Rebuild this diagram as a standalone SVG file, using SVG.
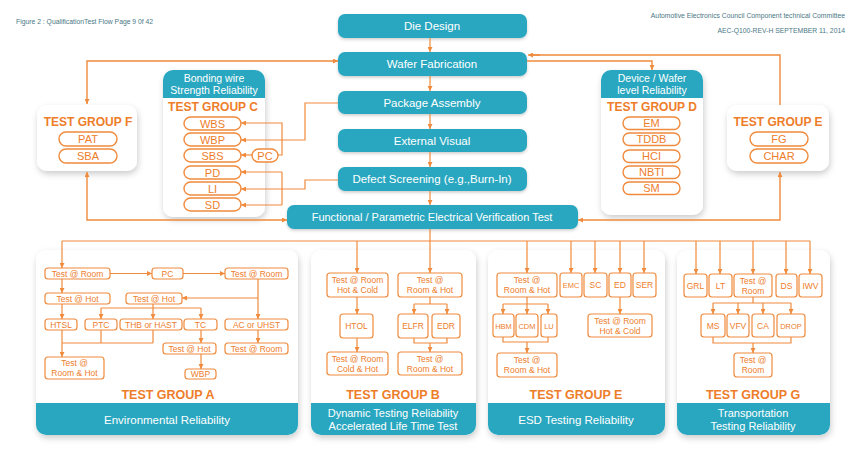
<svg xmlns="http://www.w3.org/2000/svg" width="865" height="467" viewBox="0 0 865 467">
<defs>
<style>
text{font-family:"Liberation Sans",Arial,sans-serif}
.tb{fill:#29a7c0;filter:url(#sh2)}
.tt{font-size:11.5px;fill:#fff;text-anchor:middle}
.panel{fill:#fff;filter:url(#sh)}
.hd{fill:#29a7c0}
.ht{font-size:10.5px;fill:#fff;text-anchor:middle}
.gt{font-size:12px;font-weight:bold;fill:#ee7d2a;text-anchor:middle}
.gtb{font-size:12.5px;font-weight:bold;fill:#ee7d2a;text-anchor:middle}
.pill{fill:#fff;stroke:#f08a3c;stroke-width:1.4}
.pt{font-size:11px;fill:#ee7d2a;text-anchor:middle}
.sb{fill:#fff;stroke:#f08a3c;stroke-width:1.2}
.st{font-size:8.5px;fill:#ee7d2a;text-anchor:middle}
.ln{fill:none;stroke:#f08a3c;stroke-width:1.2}
.la{fill:none;stroke:#f08a3c;stroke-width:1.2;marker-end:url(#ah)}
.lb{fill:none;stroke:#f08a3c;stroke-width:1.4;marker-end:url(#ah);marker-start:url(#ah)}
.ft{font-size:11.5px;fill:#fff;text-anchor:middle}
.hdr{font-size:6.8px;fill:#4a7785}
</style>
<marker id="ah" viewBox="0 0 10 10" refX="10" refY="5" markerWidth="5" markerHeight="5" markerUnits="userSpaceOnUse" orient="auto-start-reverse"><path d="M0,0 L10,5 L0,10 Z" fill="#f08a3c"/></marker>
<filter id="sh" x="-20%" y="-20%" width="140%" height="150%"><feDropShadow dx="1" dy="3" stdDeviation="3" flood-color="#000" flood-opacity="0.2"/></filter>
<filter id="sh2" x="-10%" y="-30%" width="120%" height="170%"><feDropShadow dx="0" dy="1.5" stdDeviation="1.5" flood-color="#000" flood-opacity="0.2"/></filter>
</defs>
<rect width="865" height="467" fill="#fff"/>

<g id="header">
<text class="hdr" x="16" y="24">Figure 2 : QualificationTest Flow Page 9 0f 42</text>
<text class="hdr" x="845" y="18" text-anchor="end">Automotive Electronics Council   Component technical Committee</text>
<text class="hdr" x="845" y="33" text-anchor="end">AEC-Q100-REV-H   SEPTEMBER 11, 2014</text>
</g>

<g id="die-design"><rect class="tb" x="338" y="14" width="189" height="24" rx="7"/><text class="tt" x="432" y="30">Die Design</text></g>
<g id="wafer-fabrication"><rect class="tb" x="338" y="52" width="189" height="24" rx="7"/><text class="tt" x="432" y="68">Wafer Fabrication</text></g>
<g id="package-assembly"><rect class="tb" x="338" y="91" width="189" height="23" rx="7"/><text class="tt" x="432" y="107">Package Assembly</text></g>
<g id="external-visual"><rect class="tb" x="338" y="129" width="189" height="23" rx="7"/><text class="tt" x="432" y="145">External Visual</text></g>
<g id="defect-screening"><rect class="tb" x="338" y="167" width="189" height="24" rx="7"/><text class="tt" x="432" y="183">Defect Screening (e.g.,Burn-In)</text></g>
<g id="functional-test"><rect class="tb" x="287" y="205" width="291" height="24" rx="7"/><text class="tt" x="432" y="221" style="font-size:11px">Functional / Parametric Electrical Verification Test</text></g>

<g id="group-f">
<rect class="panel" x="37" y="105" width="100" height="66" rx="10"/>
<text class="gt" x="88" y="126">TEST GROUP F</text>
<rect class="pill" x="59" y="132" width="58" height="14" rx="7"/><text class="pt" x="88" y="143">PAT</text>
<rect class="pill" x="59" y="149" width="58" height="14" rx="7"/><text class="pt" x="88" y="160">SBA</text>
</g>

<g id="group-c">
<rect class="panel" x="163" y="70" width="102" height="147" rx="10"/>
<path class="hd" d="M163,98 V80 a10,10 0 0 1 10,-10 H255 a10,10 0 0 1 10,10 V98 Z"/>
<text class="ht" x="214" y="82">Bonding wire</text>
<text class="ht" x="214" y="94">Strength Reliability</text>
<text class="gt" x="213" y="111">TEST GROUP C</text>
<rect class="pill" x="184" y="117" width="57" height="13" rx="6.5"/><text class="pt" x="212.5" y="127.5">WBS</text>
<rect class="pill" x="184" y="133" width="57" height="13" rx="6.5"/><text class="pt" x="212.5" y="143.5">WBP</text>
<rect class="pill" x="184" y="149" width="57" height="13" rx="6.5"/><text class="pt" x="212.5" y="159.5">SBS</text>
<rect class="pill" x="184" y="166" width="57" height="13" rx="6.5"/><text class="pt" x="212.5" y="176.5">PD</text>
<rect class="pill" x="184" y="182" width="57" height="13" rx="6.5"/><text class="pt" x="212.5" y="192.5">LI</text>
<rect class="pill" x="184" y="198" width="57" height="13" rx="6.5"/><text class="pt" x="212.5" y="208.5">SD</text>
</g>
<g id="pc-c"><rect class="pill" x="252" y="149" width="26" height="13" rx="6.5"/><text class="pt" x="265" y="159.5">PC</text></g>

<g id="group-d">
<rect class="panel" x="601" y="70" width="102" height="145" rx="10"/>
<path class="hd" d="M601,98 V80 a10,10 0 0 1 10,-10 H693 a10,10 0 0 1 10,10 V98 Z"/>
<text class="ht" x="652" y="82">Device / Wafer</text>
<text class="ht" x="652" y="94">level Reliability</text>
<text class="gt" x="652" y="111">TEST GROUP D</text>
<rect class="pill" x="623" y="117" width="57" height="12.5" rx="6.2"/><text class="pt" x="651.5" y="127">EM</text>
<rect class="pill" x="623" y="133" width="57" height="12.5" rx="6.2"/><text class="pt" x="651.5" y="143">TDDB</text>
<rect class="pill" x="623" y="150" width="57" height="12.5" rx="6.2"/><text class="pt" x="651.5" y="160">HCI</text>
<rect class="pill" x="623" y="166" width="57" height="12.5" rx="6.2"/><text class="pt" x="651.5" y="176">NBTI</text>
<rect class="pill" x="623" y="182" width="57" height="12.5" rx="6.2"/><text class="pt" x="651.5" y="192">SM</text>
</g>

<g id="group-e-top">
<rect class="panel" x="727" y="105" width="102" height="66" rx="10"/>
<text class="gt" x="778" y="126">TEST GROUP E</text>
<rect class="pill" x="750" y="132" width="58" height="14" rx="7"/><text class="pt" x="779" y="143">FG</text>
<rect class="pill" x="750" y="149" width="58" height="14" rx="7"/><text class="pt" x="779" y="160">CHAR</text>
</g>

<g id="group-a">
<rect class="panel" x="36" y="250" width="262" height="185" rx="10"/>
<path class="hd" d="M36,403 H298 V425 a10,10 0 0 1 -10,10 H46 a10,10 0 0 1 -10,-10 Z"/>
<text class="ft" x="167" y="424">Environmental Reliability</text>
<text class="gtb" x="168" y="399">TEST GROUP A</text>
<rect class="sb" x="45" y="268" width="65" height="11" rx="3"/><text class="st" x="77.5" y="276.5">Test @ Room</text>
<rect class="sb" x="152" y="268" width="31" height="11" rx="3"/><text class="st" x="167.5" y="276.5">PC</text>
<rect class="sb" x="225" y="268" width="63" height="11" rx="3"/><text class="st" x="256.5" y="276.5">Test @ Room</text>
<rect class="sb" x="45" y="293" width="65" height="11" rx="3"/><text class="st" x="77.5" y="301.5">Test @ Hot</text>
<rect class="sb" x="126" y="293" width="56" height="11" rx="3"/><text class="st" x="154" y="301.5">Test @ Hot</text>
<rect class="sb" x="45" y="319" width="32" height="11" rx="3"/><text class="st" x="61" y="327.5">HTSL</text>
<rect class="sb" x="85" y="319" width="32" height="11" rx="3"/><text class="st" x="101" y="327.5">PTC</text>
<rect class="sb" x="120" y="319" width="62" height="11" rx="3"/><text class="st" x="151" y="327.5">THB or HAST</text>
<rect class="sb" x="184" y="319" width="33" height="11" rx="3"/><text class="st" x="200.5" y="327.5">TC</text>
<rect class="sb" x="225" y="319" width="63" height="11" rx="3"/><text class="st" x="256.5" y="327.5">AC or UHST</text>
<rect class="sb" x="163" y="343" width="53" height="11" rx="3"/><text class="st" x="189.5" y="351.5">Test @ Hot</text>
<rect class="sb" x="225" y="343" width="63" height="11" rx="3"/><text class="st" x="256.5" y="351.5">Test @ Room</text>
<rect class="sb" x="45" y="357" width="59" height="22" rx="3"/><text class="st" x="74.5" y="366">Test @</text><text class="st" x="74.5" y="376">Room &amp; Hot</text>
<rect class="sb" x="185" y="369" width="31" height="10" rx="3"/><text class="st" x="200.5" y="377">WBP</text>
</g>

<g id="group-b">
<rect class="panel" x="311" y="250" width="165" height="185" rx="10"/>
<path class="hd" d="M311,403 H476 V425 a10,10 0 0 1 -10,10 H321 a10,10 0 0 1 -10,-10 Z"/>
<text class="ft" x="393" y="417" style="font-size:11px">Dynamic Testing Reliability</text>
<text class="ft" x="393" y="430" style="font-size:11px">Accelerated Life Time Test</text>
<text class="gtb" x="393" y="399">TEST GROUP B</text>
<rect class="sb" x="327" y="273" width="61" height="24" rx="3"/><text class="st" x="357.5" y="283">Test @ Room</text><text class="st" x="357.5" y="293">Hot &amp; Cold</text>
<rect class="sb" x="398" y="273" width="64" height="24" rx="3"/><text class="st" x="430" y="283">Test @</text><text class="st" x="430" y="293">Room &amp; Hot</text>
<rect class="sb" x="340" y="314" width="33" height="24" rx="3"/><text class="st" x="356.5" y="329">HTOL</text>
<rect class="sb" x="398" y="314" width="30" height="24" rx="3"/><text class="st" x="413" y="329">ELFR</text>
<rect class="sb" x="432" y="314" width="28" height="24" rx="3"/><text class="st" x="446" y="329">EDR</text>
<rect class="sb" x="327" y="352" width="61" height="23" rx="3"/><text class="st" x="357.5" y="362">Test @ Room</text><text class="st" x="357.5" y="372">Cold &amp; Hot</text>
<rect class="sb" x="398" y="352" width="64" height="23" rx="3"/><text class="st" x="430" y="362">Test @</text><text class="st" x="430" y="372">Room &amp; Hot</text>
</g>

<g id="group-e-bottom">
<rect class="panel" x="488" y="250" width="177" height="185" rx="10"/>
<path class="hd" d="M488,403 H665 V425 a10,10 0 0 1 -10,10 H498 a10,10 0 0 1 -10,-10 Z"/>
<text class="ft" x="576" y="424">ESD Testing Reliability</text>
<text class="gtb" x="576" y="399">TEST GROUP E</text>
<rect class="sb" x="497" y="273" width="60" height="24" rx="3"/><text class="st" x="527" y="283">Test @</text><text class="st" x="527" y="293">Room &amp; Hot</text>
<rect class="sb" x="560" y="273" width="22" height="24" rx="3"/><text class="st" x="571" y="288" style="font-size:7.5px">EMC</text>
<rect class="sb" x="584" y="273" width="23" height="24" rx="3"/><text class="st" x="595.5" y="288">SC</text>
<rect class="sb" x="609" y="273" width="22" height="24" rx="3"/><text class="st" x="620" y="288">ED</text>
<rect class="sb" x="633" y="273" width="23" height="24" rx="3"/><text class="st" x="644.5" y="288">SER</text>
<rect class="sb" x="493" y="314" width="21" height="23" rx="3"/><text class="st" x="503.5" y="328.5" style="font-size:7.5px">HBM</text>
<rect class="sb" x="516" y="314" width="22" height="23" rx="3"/><text class="st" x="527" y="328.5" style="font-size:7.5px">CDM</text>
<rect class="sb" x="541" y="314" width="16" height="23" rx="3"/><text class="st" x="549" y="328.5" style="font-size:7.5px">LU</text>
<rect class="sb" x="588" y="314" width="64" height="23" rx="3"/><text class="st" x="620" y="324">Test @ Room</text><text class="st" x="620" y="334">Hot &amp; Cold</text>
<rect class="sb" x="497" y="353" width="60" height="24" rx="3"/><text class="st" x="527" y="363">Test @</text><text class="st" x="527" y="373">Room &amp; Hot</text>
</g>

<g id="group-g">
<rect class="panel" x="677" y="250" width="153" height="185" rx="10"/>
<path class="hd" d="M677,403 H830 V425 a10,10 0 0 1 -10,10 H687 a10,10 0 0 1 -10,-10 Z"/>
<text class="ft" x="753" y="417" style="font-size:11px">Transportation</text>
<text class="ft" x="753" y="430" style="font-size:11px">Testing Reliability</text>
<text class="gtb" x="753" y="399">TEST GROUP G</text>
<rect class="sb" x="684" y="274" width="23" height="23" rx="3"/><text class="st" x="695.5" y="288.5">GRL</text>
<rect class="sb" x="709" y="274" width="23" height="23" rx="3"/><text class="st" x="720.5" y="288.5">LT</text>
<rect class="sb" x="734" y="274" width="38" height="23" rx="3"/><text class="st" x="753" y="283.5">Test @</text><text class="st" x="753" y="293.5">Room</text>
<rect class="sb" x="776" y="274" width="21" height="23" rx="3"/><text class="st" x="786.5" y="288.5">DS</text>
<rect class="sb" x="799" y="274" width="23" height="23" rx="3"/><text class="st" x="810.5" y="288.5">IWV</text>
<rect class="sb" x="701" y="314" width="24" height="23" rx="3"/><text class="st" x="713" y="328.5">MS</text>
<rect class="sb" x="727" y="314" width="22" height="23" rx="3"/><text class="st" x="738" y="328.5">VFV</text>
<rect class="sb" x="752" y="314" width="22" height="23" rx="3"/><text class="st" x="763" y="328.5">CA</text>
<rect class="sb" x="777" y="314" width="28" height="23" rx="3"/><text class="st" x="791" y="328.5" style="font-size:7.5px">DROP</text>
<rect class="sb" x="734" y="353" width="38" height="24" rx="3"/><text class="st" x="753" y="363">Test @</text><text class="st" x="753" y="373">Room</text>
</g>

<g id="connectors">
<path class="la" d="M430,38 V52"/>
<path class="la" d="M430,76 V91"/>
<path class="la" d="M430,114 V129"/>
<path class="la" d="M430,152 V167"/>
<path class="la" d="M430,191 V205"/>
<path class="lb" d="M87,104 V61 H338"/>
<path class="lb" d="M87,172 V220 H287"/>
<path class="lb" d="M780,172 V220 H578"/>
<path class="ln" d="M780,105 V55 H530" style="stroke-width:1.4"/>
<path class="la" d="M540,55 H528" style="stroke-width:1.4"/>
<path class="la" d="M527,61 H652 V70" style="stroke-width:1.4"/>
<path class="la" d="M338,103 H305 V140 H241"/>
<path class="la" d="M278,155 H282 V123 H241"/>
<path class="la" d="M252,155 H241"/>
<path class="la" d="M338,180 H305 V189 H241"/>
<path class="ln" d="M282,172 V205"/>
<path class="la" d="M282,172 H241"/>
<path class="la" d="M282,205 H241"/>
<path class="ln" d="M430,229 V241 M62,241 H810"/>
<path class="la" d="M62,241 V268"/>
<path class="la" d="M110,273.5 H152"/>
<path class="la" d="M183,273.5 H225"/>
<path class="la" d="M62,279 V293"/>
<path class="la" d="M62,304 V319"/>
<path class="la" d="M62,330 V357"/>
<path class="ln" d="M62,343 H153 M101,330 V343 M153,330 V343"/>
<path class="la" d="M258,279 V319"/>
<path class="la" d="M258,298 H182"/>
<path class="ln" d="M153,304 V308 M101,308 H201"/>
<path class="la" d="M101,308 V319"/>
<path class="la" d="M153,308 V319"/>
<path class="la" d="M201,308 V319"/>
<path class="la" d="M201,330 V343"/>
<path class="la" d="M201,354 V369"/>
<path class="la" d="M258,330 V343"/>
<path class="la" d="M357,241 V273"/>
<path class="la" d="M430,241 V273"/>
<path class="la" d="M357,297 V314"/>
<path class="la" d="M357,338 V352"/>
<path class="ln" d="M430,297 V304 M414,304 H447"/>
<path class="la" d="M414,304 V314"/>
<path class="la" d="M447,304 V314"/>
<path class="ln" d="M414,338 V343 H447 V338"/>
<path class="la" d="M430,343 V352"/>
<path class="la" d="M527,241 V273"/>
<path class="la" d="M571,241 V273"/>
<path class="la" d="M595,241 V273"/>
<path class="la" d="M620,241 V273"/>
<path class="la" d="M644,241 V273"/>
<path class="ln" d="M527,297 V304 M503,304 H548"/>
<path class="la" d="M503,304 V314"/>
<path class="la" d="M527,304 V314"/>
<path class="la" d="M548,304 V314"/>
<path class="ln" d="M503,337 V342 H548 V337"/>
<path class="la" d="M527,342 V353"/>
<path class="la" d="M620,297 V314"/>
<path class="la" d="M696,241 V274"/>
<path class="la" d="M720,241 V274"/>
<path class="la" d="M753,241 V274"/>
<path class="la" d="M786,241 V274"/>
<path class="la" d="M810,241 V274"/>
<path class="ln" d="M753,297 V303 M713,303 H791"/>
<path class="la" d="M713,303 V314"/>
<path class="la" d="M738,303 V314"/>
<path class="la" d="M763,303 V314"/>
<path class="la" d="M791,303 V314"/>
<path class="ln" d="M713,337 V343 H791 V337"/>
<path class="la" d="M753,343 V353"/>
</g>
</svg>
